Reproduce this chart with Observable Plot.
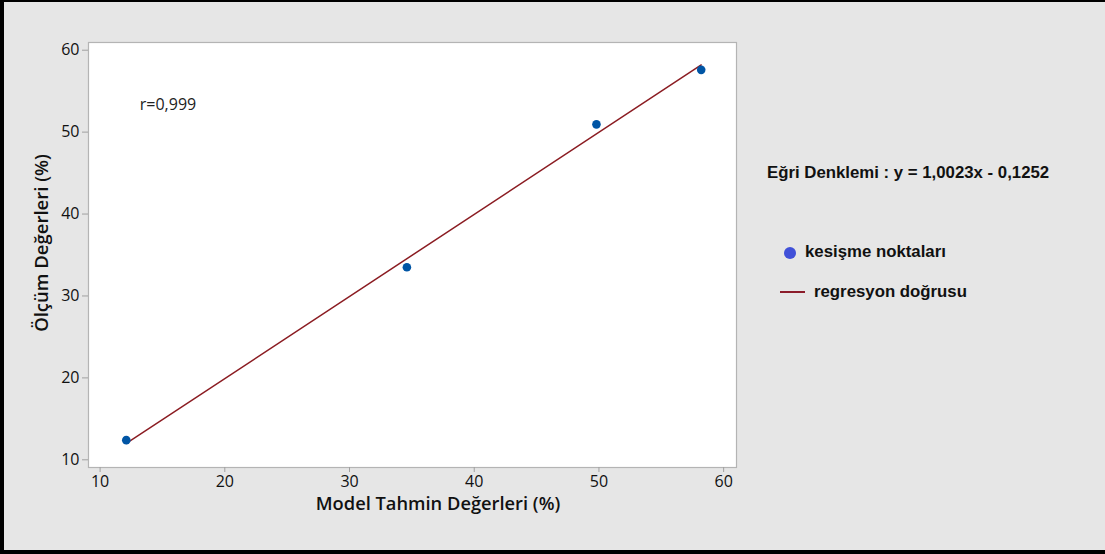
<!DOCTYPE html>
<html>
<head>
<meta charset="utf-8">
<script src="https://cdn.jsdelivr.net/npm/d3@7"></script>
<script src="https://cdn.jsdelivr.net/npm/@observablehq/plot@0.6"></script>
<style>
  html, body { margin: 0; padding: 0; background: #e6e6e6; }
  #wrap { position: relative; width: 1105px; height: 554px; overflow: hidden; background: #e6e6e6; }
  #border { position: absolute; left: 0; top: 0; width: 1105px; height: 554px; box-sizing: border-box;
            border-left: 4px solid #000; border-top: 2px solid #000; border-bottom: 4px solid #000; pointer-events: none; }
  .lbl { position: absolute; font-family: "Open Sans", sans-serif; color: #111; white-space: nowrap; }
  .leg { position: absolute; font-family: "Liberation Sans", Arial, sans-serif; font-weight: bold; font-size: 16.8px; color: #111; white-space: nowrap; }
</style>
</head>
<body>
<div id="wrap">
  <div id="chart"></div>
  <div class="lbl" id="xl" style="left:438px; top:490px; transform:translateX(-50%); font-size:18.3px; font-weight:600;">Model Tahmin Değerleri (%)</div>
  <div class="lbl" id="yl" style="left:40px; top:243px; transform:translate(-50%,-50%) rotate(-90deg); font-size:18.5px; font-weight:600;">Ölçüm Değerleri (%)</div>
  <div class="leg" style="left:767px; top:163px;">Eğri Denklemi : y = 1,0023x - 0,1252</div>
  <div style="position:absolute; left:784px; top:247px; width:12px; height:12px; border-radius:50%; background:#4050d8;"></div>
  <div class="leg" style="left:805px; top:242px;">kesişme noktaları</div>
  <div style="position:absolute; left:780px; top:291px; width:25px; height:2px; background:#8b1c2a;"></div>
  <div class="leg" style="left:814px; top:282px;">regresyon doğrusu</div>
  <div id="border"></div>
</div>
<script>
const predicted = [12.1, 34.6, 49.8, 58.2];
const measured = [12.4, 33.5, 50.95, 57.6];
const lineX = [12.1, 58.2];
const lineY = [12.0, 58.2];
const xTicks = [10, 20, 30, 40, 50, 60];
const yTicks = [10, 20, 30, 40, 50, 60];
const rLabel = "r=0,999";

const points = predicted.map((x, i) => ({x, y: measured[i]}));
const lineData = lineX.map((x, i) => ({x, y: lineY[i]}));

const chart = Plot.plot({
  width: 1105,
  height: 554,
  marginLeft: 88,
  marginRight: 369,
  marginTop: 42,
  marginBottom: 87,
  style: {fontFamily: "'Open Sans', sans-serif", fontSize: "16px", background: "#e6e6e6", overflow: "visible"},
  x: {domain: [9.07, 61.03]},
  y: {domain: [9.06, 60.94]},
  marks: [
    Plot.frame({fill: "white", stroke: "#b4b4b4", strokeWidth: 1.2}),
    Plot.axisX({ticks: xTicks, tickSize: 5, tickPadding: 3, stroke: "#a0a0a0", fill: "#111", label: null, fontSize: 16}),
    Plot.axisY({ticks: yTicks, tickSize: 6, tickPadding: 3, stroke: "#a0a0a0", fill: "#111", label: null, fontSize: 16}),
    Plot.line(lineData, {x: "x", y: "y", stroke: "#8b1c22", strokeWidth: 1.5}),
    Plot.dot(points, {x: "x", y: "y", r: 4.3, fill: "#0055a5", stroke: "none"}),
    Plot.text([rLabel], {x: [13.18], y: [53.3], text: d => d, textAnchor: "start", fontSize: 16, fill: "#222"})
  ]
});
document.getElementById("chart").appendChild(chart);
</script>
</body>
</html>
